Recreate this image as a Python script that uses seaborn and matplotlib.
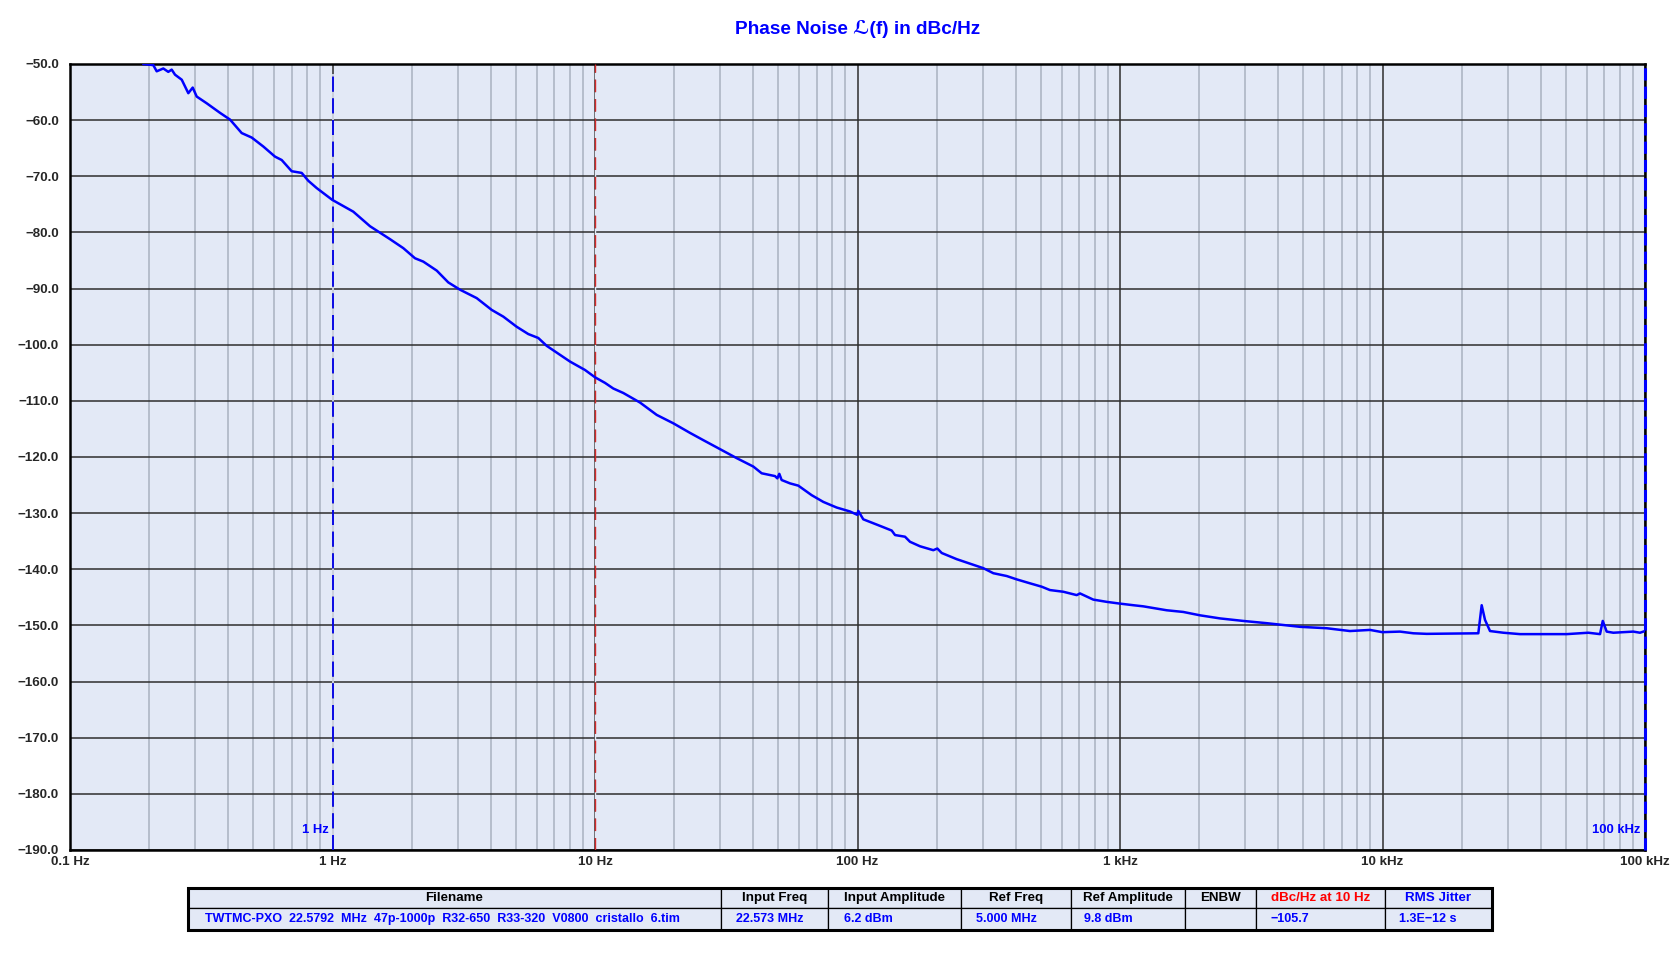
import pandas as pd
import seaborn as sns
import matplotlib.pyplot as plt
from matplotlib.ticker import FixedLocator, LogLocator, NullFormatter
from matplotlib.patches import Rectangle

# phase noise trace (offset frequency in Hz, dBc/Hz)
freq_hz = [0.19, 0.2077, 0.2139, 0.2267, 0.2368, 0.244, 0.2512, 0.2665, 0.2823, 0.2934,
           0.3039, 0.3318, 0.3728, 0.407, 0.4509, 0.4923, 0.5451, 0.604, 0.6404, 0.6992,
           0.7632, 0.8088, 0.8706, 0.998, 1.2, 1.39, 1.656, 1.861, 2.062, 2.218,
           2.495, 2.761, 3.06, 3.543, 4.041, 4.475, 5.03, 5.57, 6.08, 6.546,
           8.03, 9.16, 10.0, 10.92, 11.74, 12.82, 14.84, 17.18, 19.88, 23.0,
           25.86, 29.94, 34.65, 40.09, 43.15, 48.5, 49.5, 50.37, 51.4, 55.34,
           59.5, 66.9, 74.1, 83.3, 93.6, 99.8, 100.7, 105.2, 114.9, 125.4,
           135, 139, 151.7, 158.5, 173, 194.5, 201.4, 209.4, 238.8, 260.6,
           301.5, 329.2, 370.2, 404.2, 454.1, 503, 541, 608, 684, 704,
           791, 890, 994, 1124, 1227, 1506, 1742, 2018, 2404, 2949,
           3622, 4851, 6130, 7516, 8961, 9982, 11660, 13105, 14735, 23174,
           23870, 24570, 25680, 28860, 33410, 50310, 60810, 67410, 69030, 71450,
           75730, 90240, 95710, 100000]
noise_dbc = [-50.0, -50.2, -51.3, -50.8, -51.4, -51.0, -51.9, -52.8, -55.2, -54.2,
             -55.8, -57.0, -58.7, -59.9, -62.3, -63.1, -64.7, -66.5, -67.1, -69.1,
             -69.4, -70.8, -72.1, -74.2, -76.3, -78.9, -81.2, -82.8, -84.6, -85.2,
             -86.8, -88.9, -90.2, -91.7, -93.8, -95.0, -96.8, -98.1, -98.8, -100.2,
             -103.0, -104.5, -105.8, -106.8, -107.8, -108.6, -110.3, -112.5, -114.0, -115.7,
             -117.0, -118.6, -120.2, -121.7, -122.9, -123.4, -123.8, -123.0, -124.1, -124.7,
             -125.1, -126.8, -128.0, -129.0, -129.7, -130.3, -129.6, -131.1, -131.8, -132.5,
             -133.1, -133.9, -134.2, -135.1, -135.9, -136.6, -136.3, -137.1, -138.2, -138.8,
             -139.8, -140.7, -141.2, -141.8, -142.5, -143.1, -143.7, -144.0, -144.6, -144.3,
             -145.4, -145.8, -146.1, -146.4, -146.6, -147.3, -147.6, -148.2, -148.75, -149.2,
             -149.6, -150.25, -150.5, -151.0, -150.8, -151.2, -151.1, -151.4, -151.5, -151.4,
             -146.4, -149.0, -151.0, -151.3, -151.55, -151.55, -151.3, -151.55, -149.2, -151.1,
             -151.3, -151.1, -151.3, -151.0]

x_ticks = [0.1, 1, 10, 100, 1e3, 1e4, 1e5]
x_tick_labels = ['0.1 Hz', '1 Hz', '10 Hz', '100 Hz', '1 kHz', '10 kHz', '100 kHz']
y_ticks = list(range(-190, -49, 10))

marker_freqs = [1, 1e5]
marker_labels = ['1 Hz', '100 kHz']
ref_freq = 10

table_header = ['Filename', 'Input Freq', 'Input Amplitude', 'Ref Freq',
                'Ref Amplitude', 'ENBW', 'dBc/Hz at 10 Hz', 'RMS Jitter']
table_values = ['TWTMC-PXO  22.5792  MHz  47p-1000p  R32-650  R33-320  V0800  cristallo  6.tim',
                '22.573 MHz', '6.2 dBm', '5.000 MHz', '9.8 dBm', '',
                '\u2212105.7', '1.3E\u221212 s']


def main():
    sns.set_style('white')
    plt.rcParams['font.family'] = ['Liberation Sans', 'DejaVu Sans']

    bg = '#E3E9F6'
    blue = '#0000FF'
    tick_fs = 9.6

    df = pd.DataFrame({'freq': freq_hz, 'noise': noise_dbc})

    W, H = 1680, 967
    fig = plt.figure(figsize=(W / 100, H / 100), dpi=100)
    ax = fig.add_axes([70 / W, 1 - 850 / H, 1575 / W, 786 / H])
    ax.set_facecolor(bg)
    ax.set_xscale('log')

    sns.lineplot(data=df, x='freq', y='noise', ax=ax, color=blue,
                 linewidth=1.8, estimator=None, sort=False, zorder=5)

    ax.set_xlim(0.1, 1e5)
    ax.set_ylim(-190, -50)
    ax.set_xlabel('')
    ax.set_ylabel('')

    ax.xaxis.set_major_locator(FixedLocator(x_ticks))
    ax.set_xticklabels(x_tick_labels, fontsize=tick_fs, fontweight='bold')
    ax.xaxis.set_minor_locator(LogLocator(base=10, subs=range(2, 10), numticks=20))
    ax.xaxis.set_minor_formatter(NullFormatter())
    ax.yaxis.set_major_locator(FixedLocator(y_ticks))
    ax.set_yticklabels([f'\u2212{abs(v)}.0' for v in y_ticks],
                       fontsize=tick_fs, fontweight='bold')
    ax.tick_params(which='both', length=0)
    ax.tick_params(axis='x', pad=4)
    ax.tick_params(axis='y', pad=8)

    ax.set_axisbelow(True)
    ax.grid(which='minor', axis='x', color='#A9B1C0', linewidth=1.1)
    ax.grid(which='major', axis='both', color='#2E2E2E', linewidth=1.1)

    for s in ax.spines.values():
        s.set_color('black')
        s.set_linewidth(1.8)
        s.set_visible(True)

    # marker lines
    ax.axvline(marker_freqs[0], ymax=0.987, color=blue, linewidth=1.2,
               linestyle=(0, (9, 4)), gapcolor=bg, zorder=3)
    ax.axvline(ref_freq, color='#D42A2A', linewidth=1.0,
               linestyle=(0, (9, 5)), gapcolor=bg, zorder=3)
    ax.axvline(marker_freqs[1], color=blue, linewidth=2.2,
               linestyle=(0, (4, 2)), clip_on=False, zorder=6)
    for f, lab in zip(marker_freqs, marker_labels):
        ax.annotate(lab, xy=(f, -186.5), xytext=(-3, 0), textcoords='offset points',
                    ha='right', va='center', color=blue, fontsize=9.4,
                    fontweight='bold', zorder=7)

    fig.text(857.5 / W, 1 - 29 / H, 'Phase Noise \u2112(f) in dBc/Hz', color=blue,
             fontsize=13.7, fontweight='bold', ha='center', va='center')

    # info table
    col_px = [533, 107, 133, 110, 114, 71, 129, 107]
    tax = fig.add_axes([188 / W, 1 - 930 / H, sum(col_px) / W, 42 / H])
    tax.axis('off')
    tbl = tax.table(cellText=[table_values], colLabels=table_header,
                    colWidths=[c / sum(col_px) for c in col_px],
                    cellLoc='center', bbox=[0, 0, 1, 1])
    tbl.auto_set_font_size(False)
    tbl.set_fontsize(9.2)
    pads = [0.032, 0.14, 0.12, 0.136, 0.11, 0.1, 0.116, 0.13]
    for (r, c), cell in tbl.get_celld().items():
        cell.set_facecolor(bg)
        cell.set_edgecolor('black')
        cell.set_linewidth(0.9)
        if r == 0:
            cell.set_height(20)
            color = 'black'
            if c == 6:
                color = '#FF0000'
            elif c == 7:
                color = blue
            cell.set_text_props(color=color, fontweight='bold', ha='center',
                                fontsize=9.6)
        else:
            cell.set_height(22)
            cell.PAD = pads[c]
            cell.set_text_props(color=blue, fontweight='bold', ha='left',
                                fontsize=9.0)
    tax.add_patch(Rectangle((0, 0), 1, 1, transform=tax.transAxes, fill=False,
                            edgecolor='black', linewidth=2.2, clip_on=False))

    fig.savefig('out.png', dpi=100)


if __name__ == '__main__':
    main()
